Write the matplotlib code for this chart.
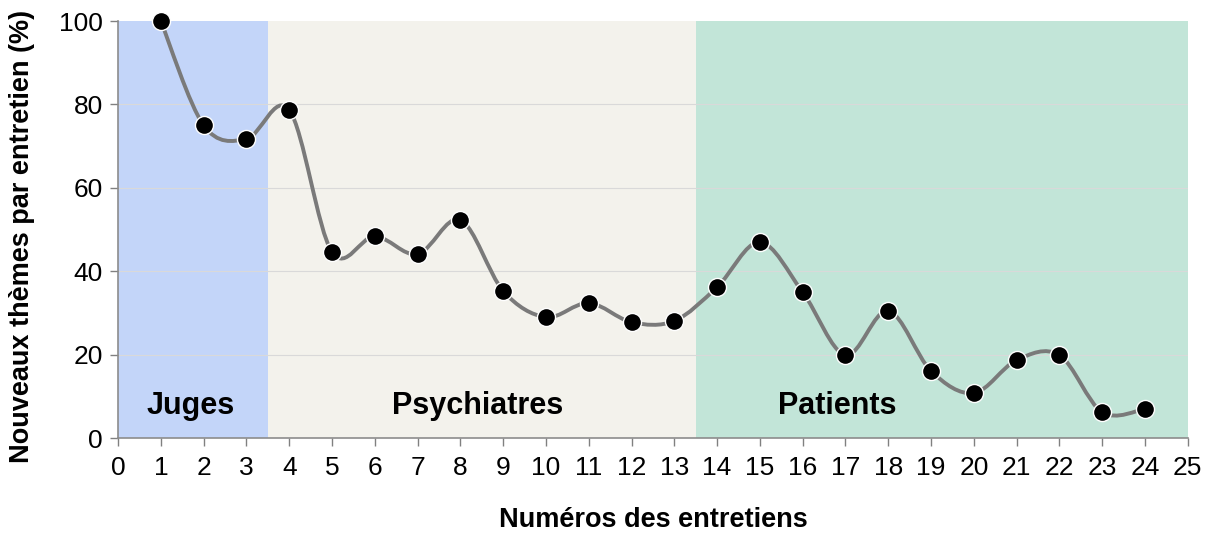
import numpy as np
import matplotlib
matplotlib.use("Agg")
import matplotlib.pyplot as plt
from matplotlib.path import Path
from matplotlib.patches import PathPatch

interviews = list(range(1, 25))
new_themes = [100, 75, 71.7, 78.7, 44.6, 48.4, 44.1, 52.3, 35.3, 29.0, 32.4, 27.8,
              28.1, 36.2, 47.0, 35.0, 19.9, 30.5, 16.1, 10.8, 18.7, 19.9, 6.2, 7.0]
groups = ["Juges", "Psychiatres", "Patients"]
group_bounds = [(0, 3.5), (3.5, 13.5), (13.5, 25)]
group_label_x = [1.7, 8.4, 16.8]
group_colors = ["#c3d5f9", "#f3f2ec", "#c2e5d8"]
x_ticks = list(range(0, 26))
y_ticks = [0, 20, 40, 60, 80, 100]

plt.rcParams['font.family'] = ['Liberation Sans', 'DejaVu Sans']

fig = plt.figure(figsize=(12.12, 5.33), dpi=100)
ax = fig.add_axes([0.0974, 0.178, 0.8826, 0.7826])
ax.set_xlim(0, 25)
ax.set_ylim(0, 100)

for (a, b), c in zip(group_bounds, group_colors):
    ax.axvspan(a, b, color=c, zorder=0, lw=0)
for name, xc in zip(groups, group_label_x):
    ax.text(xc, 7.7, name, ha='center', va='center', fontsize=22, fontweight='bold', zorder=3)

for yv in y_ticks[1:-1]:
    ax.axhline(yv, color='#d9d9d9', lw=0.8, zorder=1)

# Smoothed line (Catmull-Rom as cubic Bezier segments through data points)
x = np.array(interviews, dtype=float)
y = np.array(new_themes, dtype=float)
n = len(x)
verts = [(x[0], y[0])]
codes = [Path.MOVETO]
for i in range(n - 1):
    p0 = np.array([x[max(i - 1, 0)], y[max(i - 1, 0)]])
    p1 = np.array([x[i], y[i]])
    p2 = np.array([x[i + 1], y[i + 1]])
    p3 = np.array([x[min(i + 2, n - 1)], y[min(i + 2, n - 1)]])
    c1 = p1 + (p2 - p0) / 6.0
    c2 = p2 - (p3 - p1) / 6.0
    verts += [tuple(c1), tuple(c2), tuple(p2)]
    codes += [Path.CURVE4] * 3
ax.add_patch(PathPatch(Path(verts, codes), facecolor='none', edgecolor='#7a7a7a', lw=2.8, zorder=4))

ax.plot(interviews, new_themes, linestyle='none', marker='o', markersize=13,
        markerfacecolor='black', markeredgecolor='white', markeredgewidth=1.0, zorder=5, clip_on=False)

ax.set_xticks(x_ticks)
ax.set_yticks(y_ticks)
ax.tick_params(axis='both', labelsize=19, color='#808080', length=6, width=1, direction='out')
ax.tick_params(axis='x', pad=7)
ax.tick_params(axis='y', pad=5)
for s in ['left', 'bottom']:
    ax.spines[s].set_color('#8c8c8c')
    ax.spines[s].set_linewidth(1.2)
ax.spines['top'].set_visible(False)
ax.spines['right'].set_visible(False)

ax.set_xlabel('Numéros des entretiens', fontsize=19.5, fontweight='bold', labelpad=19)
ax.set_ylabel('Nouveaux thèmes par entretien (%)', fontsize=19.5, fontweight='bold')
ax.yaxis.set_label_coords(-0.078, 0.484)

fig.savefig('out.png', dpi=100)
